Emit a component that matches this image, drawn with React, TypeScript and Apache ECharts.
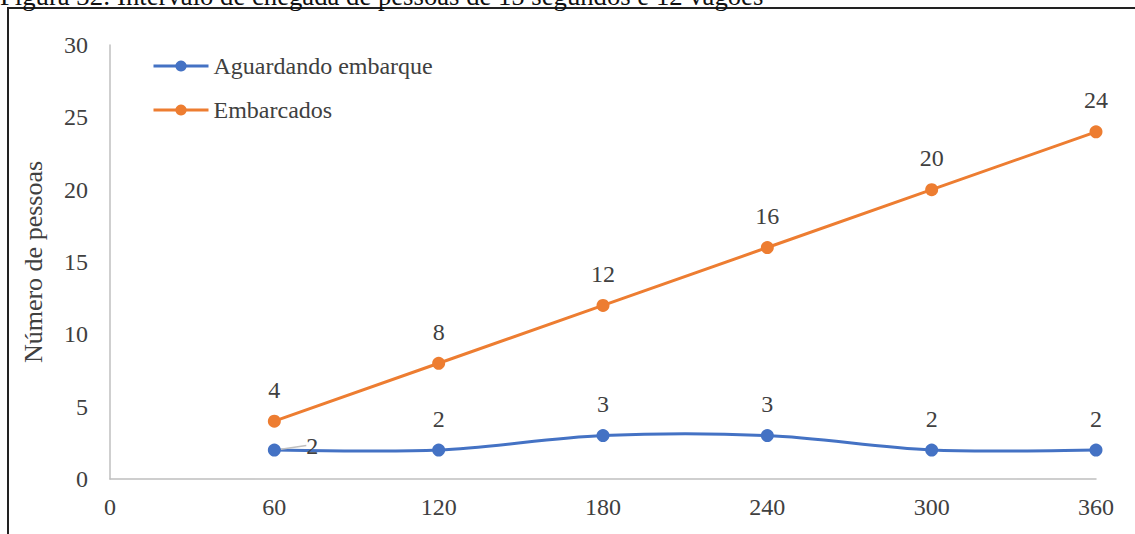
import React, { useEffect, useRef } from "react";
import * as echarts from "echarts";

const caption = "Figura 32: Intervalo de chegada de pessoas de 15 segundos e 12 vagões";
const xValues = [60, 120, 180, 240, 300, 360];
const aguardando = [2, 2, 3, 3, 2, 2];
const embarcados = [4, 8, 12, 16, 20, 24];
const seriesNames = ["Aguardando embarque", "Embarcados"];
const yAxisName = "Número de pessoas";

const FONT = "'Liberation Serif', 'Times New Roman', serif";
const TXT = "#404040";
const BLUE = "#4472C4";
const ORANGE = "#ED7D31";

export default function App() {
  const ref = useRef<HTMLDivElement>(null);
  useEffect(() => {
    if (!ref.current) return;
    const chart = echarts.init(ref.current, null, { renderer: "svg" });
    const labelStyle = {
      show: true,
      position: "top",
      distance: 13,
      fontFamily: FONT,
      fontSize: 24,
      color: TXT,
    };
    const n = xValues.length;
    const clamp = (k: number) => Math.max(0, Math.min(n - 1, k));
    chart.setOption({
      animation: false,
      textStyle: { fontFamily: FONT },
      graphic: [
        {
          type: "rect",
          shape: { x: 8, y: 8, width: 1200, height: 600 },
          style: { fill: "none", stroke: "#222", lineWidth: 2 },
          silent: true,
        },
        {
          type: "text",
          x: 0,
          y: -4,
          style: {
            text: caption,
            fontFamily: FONT,
            fontSize: 26.7,
            fill: "#111",
            verticalAlign: "middle",
          },
        },
      ],
      legend: {
        orient: "vertical",
        left: 147,
        top: 49,
        itemWidth: 55,
        itemHeight: 14,
        itemGap: 20,
        textStyle: { fontFamily: FONT, fontSize: 24, color: TXT },
        data: [
          { name: seriesNames[0], lineStyle: { color: BLUE, width: 3, opacity: 1 } },
          { name: seriesNames[1], lineStyle: { color: ORANGE, width: 3, opacity: 1 } },
        ],
      },
      grid: { left: 110, right: 39, top: 45, bottom: 55, containLabel: false },
      xAxis: {
        type: "value",
        min: 0,
        max: 360,
        interval: 60,
        axisLine: { show: true, lineStyle: { color: "#bfbfbf", width: 1.5 } },
        axisTick: { show: false },
        splitLine: { show: false },
        axisLabel: { margin: 16, fontFamily: FONT, fontSize: 24, color: TXT },
      },
      yAxis: {
        type: "value",
        min: 0,
        max: 30,
        interval: 5,
        name: yAxisName,
        nameLocation: "middle",
        nameGap: 64,
        nameTextStyle: { fontFamily: FONT, fontSize: 26, color: TXT },
        axisLine: { show: true, lineStyle: { color: "#bfbfbf", width: 1.5 } },
        axisTick: { show: false },
        splitLine: { show: false },
        axisLabel: { margin: 22, fontFamily: FONT, fontSize: 24, color: TXT },
      },
      series: [
        {
          name: "curva",
          type: "custom",
          silent: true,
          z: 1,
          data: xValues.map((x, i) => [x, aguardando[i]]),
          renderItem: (params: any, api: any) => {
            const i = params.dataIndex;
            if (i >= n - 1) return null;
            const p = (k: number) => {
              const c = clamp(k);
              return api.coord([xValues[c], aguardando[c]]);
            };
            const P0 = p(i - 1), P1 = p(i), P2 = p(i + 1), P3 = p(i + 2);
            return {
              type: "bezierCurve",
              shape: {
                x1: P1[0],
                y1: P1[1],
                x2: P2[0],
                y2: P2[1],
                cpx1: P1[0] + (P2[0] - P0[0]) / 6,
                cpy1: P1[1] + (P2[1] - P0[1]) / 6,
                cpx2: P2[0] - (P3[0] - P1[0]) / 6,
                cpy2: P2[1] - (P3[1] - P1[1]) / 6,
              },
              style: { stroke: BLUE, lineWidth: 3, fill: "none" },
            };
          },
        },
        {
          name: seriesNames[0],
          type: "line",
          z: 3,
          symbol: "circle",
          symbolSize: 13,
          lineStyle: { color: BLUE, width: 3, opacity: 0 },
          itemStyle: { color: BLUE },
          label: labelStyle,
          labelLayout: (params: any) =>
            params.dataIndex === 0 ? { dx: 38, dy: 27 } : {},
          data: xValues.map((x, i) =>
            i === 0
              ? {
                  value: [x, aguardando[i]],
                  labelLine: { show: true, lineStyle: { color: "#bfbfbf", width: 1.5 } },
                }
              : [x, aguardando[i]]
          ),
        },
        {
          name: seriesNames[1],
          type: "line",
          z: 2,
          symbol: "circle",
          symbolSize: 13,
          lineStyle: { color: ORANGE, width: 3 },
          itemStyle: { color: ORANGE },
          label: labelStyle,
          data: xValues.map((x, i) => [x, embarcados[i]]),
        },
      ],
    });
    return () => chart.dispose();
  }, []);
  return (
    <div
      ref={ref}
      style={{ position: "fixed", left: 0, top: 0, width: 1135, height: 534, background: "#fff" }}
    />
  );
}
